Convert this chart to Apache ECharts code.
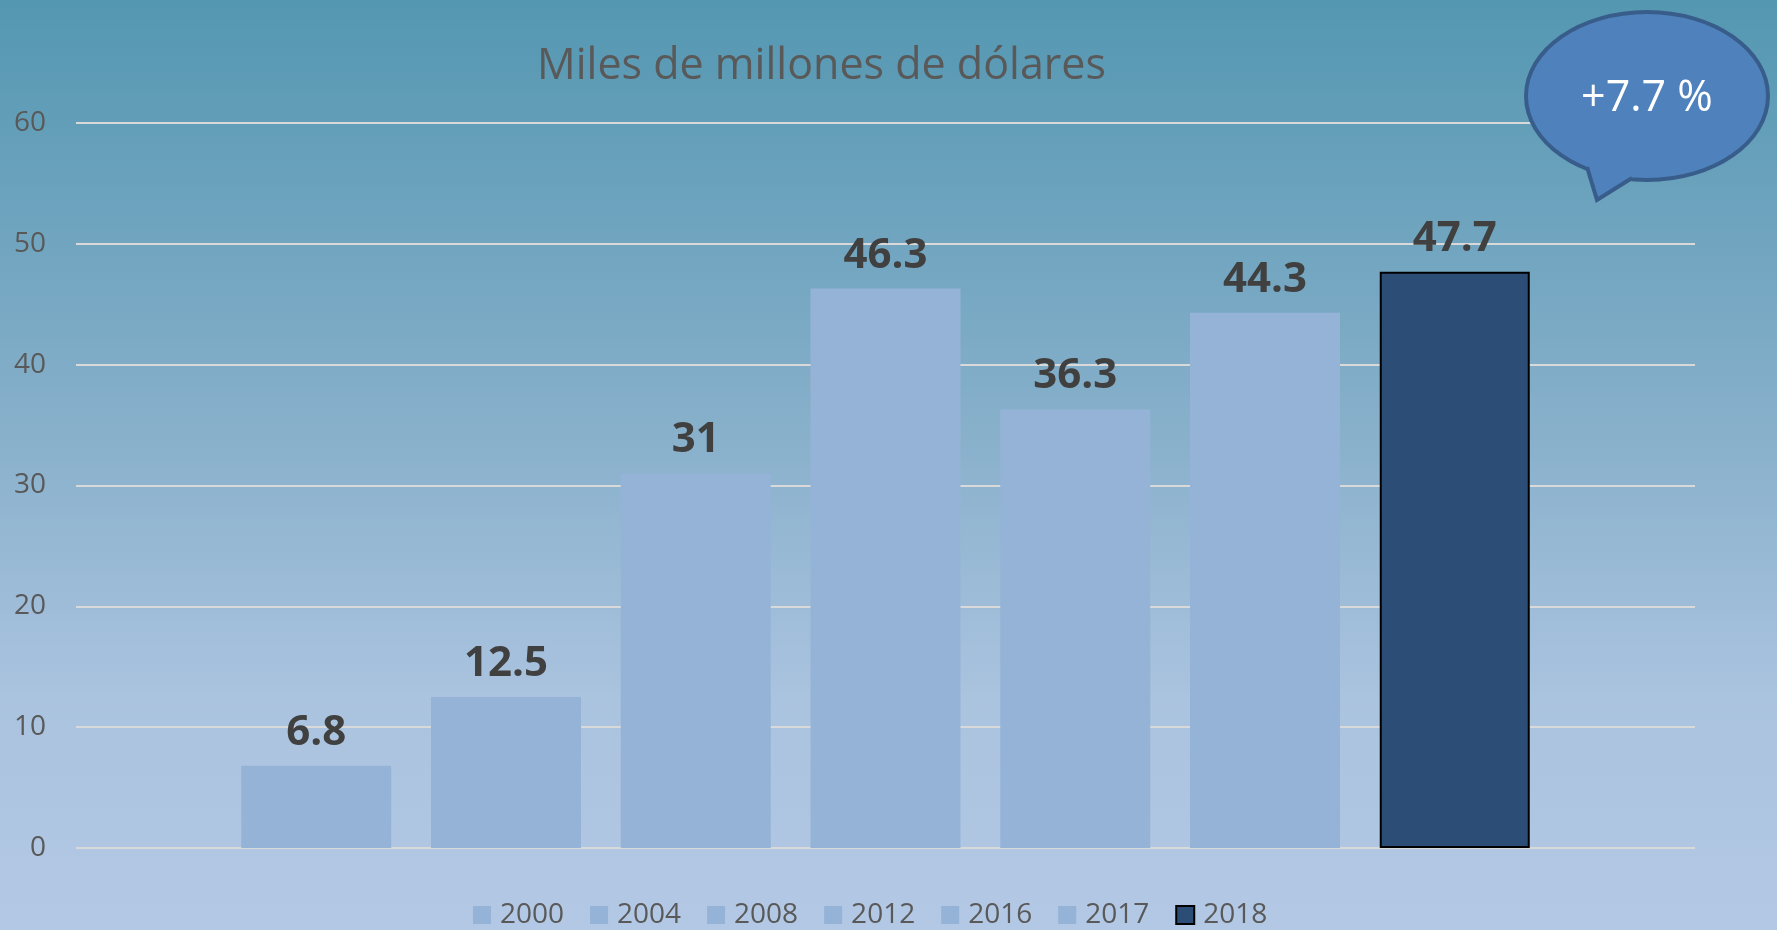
<!DOCTYPE html>
<html>
<head>
<meta charset="utf-8">
<script src="https://cdn.jsdelivr.net/npm/echarts@6/dist/echarts.min.js"></script>
<style>
  html, body { margin: 0; padding: 0; }
  #chart { width: 1777px; height: 930px; }
</style>
</head>
<body>
<div id="chart"></div>
<script>
// Years shown as separate series in one category group
const years = ['2000', '2004', '2008', '2012', '2016', '2017', '2018'];
// Values in billions of dollars
const values = [6.8, 12.5, 31, 46.3, 36.3, 44.3, 47.7];
const yTicks = [0, 10, 20, 30, 40, 50, 60];
const titleText = 'Miles de millones de dólares';
const growthText = '+7.7 %';

const FONT = '"Open Sans", "Noto Sans", sans-serif';
const lightBar = '#95b3d7';
const darkBar = '#2c4d75';

const chart = echarts.init(document.getElementById('chart'));

const series = years.map((y, i) => {
  const last = i === years.length - 1;
  return {
    name: y,
    type: 'bar',
    data: [values[i]],
    barWidth: 150,
    barGap: '26.5%',
    itemStyle: last
      ? { color: darkBar, borderColor: '#000000', borderWidth: 2 }
      : { color: lightBar },
    label: {
      show: true,
      position: 'top',
      distance: 12,
      color: '#404040',
      fontFamily: FONT,
      fontWeight: 'bold',
      fontSize: 42
    }
  };
});

// Speech bubble callout with the yearly growth
const BUBBLE_Z = 100;

chart.setOption({
  backgroundColor: {
    type: 'linear', x: 0, y: 0, x2: 0, y2: 1,
    colorStops: [
      { offset: 0, color: '#5497b1' },
      { offset: 0.45, color: '#86afca' },
      { offset: 0.75, color: '#aac3df' },
      { offset: 1, color: '#b3c8e4' }
    ]
  },
  animation: false,
  title: {
    text: titleText,
    left: 532,
    top: 40,
    textStyle: { fontFamily: FONT, fontSize: 43, fontWeight: 'normal', color: '#595959' }
  },
  legend: {
    data: years,
    left: 468,
    bottom: -4,
    itemWidth: 18,
    itemHeight: 18,
    itemGap: 26,
    icon: 'rect',
    textStyle: { fontFamily: FONT, fontSize: 28, color: '#595959', padding: [0, 0, 0, 4] }
  },
  grid: { left: 76, right: 82, top: 123, bottom: 82, containLabel: false },
  xAxis: {
    type: 'category',
    data: [''],
    axisLine: { show: false },
    axisTick: { show: false },
    axisLabel: { show: false }
  },
  yAxis: {
    type: 'value',
    min: yTicks[0],
    max: yTicks[yTicks.length - 1],
    interval: 10,
    axisLine: { show: false },
    axisTick: { show: false },
    axisLabel: { margin: 30, fontFamily: FONT, fontSize: 28, color: '#595959' },
    splitLine: { lineStyle: { color: '#d9d9d9', width: 2 } }
  },
  series: series,
  graphic: [
    {
      type: 'ellipse',
      z: BUBBLE_Z,
      shape: { cx: 1647, cy: 96, rx: 121, ry: 84 },
      style: { fill: '#4f81bd', stroke: '#385d8a', lineWidth: 4 }
    },
    {
      type: 'polygon',
      z: BUBBLE_Z + 1,
      shape: { points: [[1584, 158], [1597, 200], [1632, 178], [1640, 168]] },
      style: { fill: '#4f81bd' }
    },
    {
      type: 'polyline',
      z: BUBBLE_Z + 2,
      shape: { points: [[1587, 167], [1597, 200], [1632, 178]] },
      style: { stroke: '#385d8a', lineWidth: 4, fill: null }
    },
    {
      type: 'text',
      z: BUBBLE_Z + 3,
      x: 1647, y: 99,
      style: {
        text: growthText,
        fill: '#ffffff',
        font: '43px ' + FONT,
        textAlign: 'center',
        textVerticalAlign: 'middle'
      }
    }
  ]
});
</script>
</body>
</html>
